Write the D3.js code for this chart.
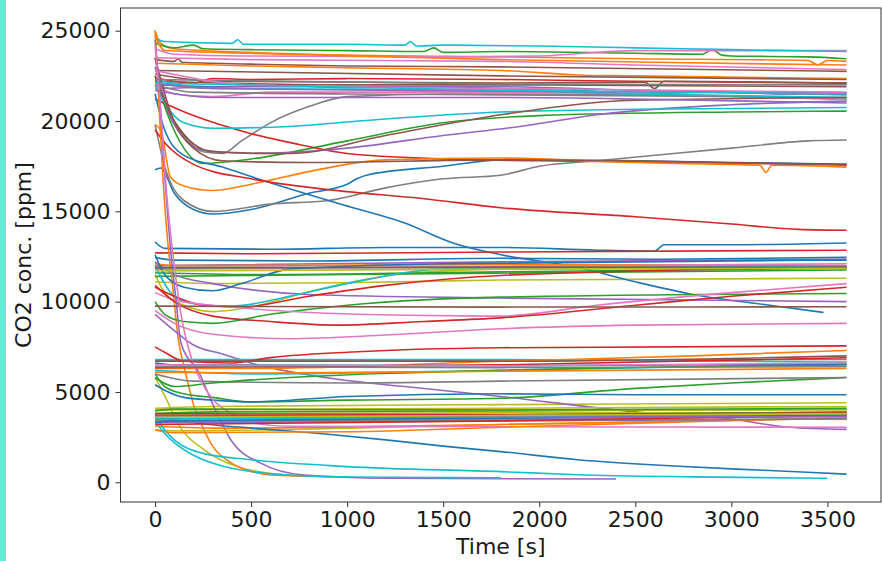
<!DOCTYPE html>
<html><head><meta charset="utf-8">
<script src="https://cdn.jsdelivr.net/npm/d3@7"></script>
<style>body{margin:0;background:#fff;}svg{display:block;}</style>
</head><body>
<svg id="chart" width="882" height="561"></svg>
<script>
// ---------------- DATA (time [s], CO2 [ppm]) ----------------
const timeTicks = [0, 500, 1000, 1500, 2000, 2500, 3000, 3500];
const concTicks = [0, 5000, 10000, 15000, 20000, 25000];
const xLabel = "Time [s]";
const yLabel = "CO2 conc. [ppm]";

const blueRuns = [
  [[0,22300],[40,22000],[300,21900],[700,21950],[1000,21850],[1400,21900],[1800,21800],[2200,21700],[2500,21500],[2900,21600],[3300,21500],[3600,21550]],
  [[0,17300],[30,17400],[100,16000],[200,15100],[300,14850],[500,15100],[800,16000],[1000,16500],[1050,16800],[1100,17000],[1500,17500],[1800,17850],[2500,17800],[3600,17600]],
  [[0,21500],[50,19500],[150,18100],[350,17450],[550,16750],[950,15450],[1300,14350],[1550,13250],[1800,12600],[2200,11900],[2500,11100],[2800,10400],[3200,9800],[3480,9400]],
  [[0,13300],[50,12950],[600,12900],[1200,13000],[1800,13000],[2300,12850],[2600,12800],[2650,13150],[3000,13150],[3600,13250]],
  [[0,12450],[100,12300],[800,12250],[1800,12400],[2600,12350],[3600,12450]],
  [[0,12600],[50,11500],[150,10800],[300,10600],[450,11000],[700,11800],[1500,12100],[3600,12300]],
  [[0,5400],[50,5100],[150,4700],[300,4550],[500,4450],[1000,4750],[1800,4900],[2500,4850],[3600,4850]],
  [[0,3600],[200,3300],[500,3000],[860,2700],[1200,2350],[1500,2000],[1800,1700],[2200,1250],[2700,900],[3200,650],[3600,450]],
  [[0,6600],[100,6500],[1800,6450],[3600,6550]],
  [[0,3300],[100,3400],[1800,3550],[3600,3700]]
];
const orangeRuns = [
  [[0,25000],[30,24300],[100,24000],[500,23800],[1000,23650],[1800,23550],[2500,23450],[3400,23350],[3450,23100],[3500,23350],[3600,23300]],
  [[0,23200],[500,23050],[1000,22950],[1800,22800],[2200,22550],[2500,22500],[3600,22350]],
  [[0,19800],[30,19500],[80,16900],[150,16400],[300,16150],[500,16500],[800,17200],[1200,17850],[1800,17950],[2500,17700],[3000,17600],[3150,17550],[3180,17150],[3210,17550],[3600,17450]],
  [[0,12100],[100,12000],[1800,12050],[3600,12000]],
  [[0,25000],[20,21000],[40,17000],[60,14000],[90,11000],[120,8000],[160,6000],[200,4300],[250,3000],[300,2000],[400,1050],[500,600],[600,400],[920,300]],
  [[0,6300],[500,6300],[1800,6700],[2800,7000],[3600,7300]],
  [[0,3100],[300,3000],[1800,3200],[3600,3550]],
  [[0,2900],[100,2750],[1000,2800],[1800,3050],[3600,3600]],
  [[0,6100],[500,6050],[1800,6150],[3600,6300]],
  [[0,24700],[50,23900],[500,23750],[1800,23400],[2600,23250],[3600,23100]]
];
const greenRuns = [
  [[0,24300],[100,24050],[200,24200],[250,24000],[500,23950],[1000,23900],[1400,23850],[1450,24050],[1500,23800],[1800,23850],[2500,23750],[2850,23700],[2900,23950],[2950,23650],[3000,23600],[3400,23550],[3600,23450]],
  [[0,22500],[60,20500],[150,18500],[250,17650],[500,17900],[1000,18900],[1500,19900],[2000,20300],[3000,20500],[3600,20550]],
  [[0,11600],[500,11500],[1800,11650],[3600,11850]],
  [[0,11400],[1000,11500],[3600,11750]],
  [[0,10000],[50,9300],[150,8900],[300,8800],[600,9300],[1000,9800],[1800,10250],[3600,10450]],
  [[0,6000],[50,5300],[150,4900],[300,4700],[500,4450],[1000,4550],[1800,4650],[2500,5200],[3000,5500],[3600,5800]],
  [[0,5800],[100,5300],[300,5500],[700,5800],[1800,6200],[3600,6500]],
  [[0,3800],[300,3900],[1800,3950],[3600,4050]],
  [[0,3500],[1800,3700],[3600,3900]],
  [[0,3950],[100,4050],[1800,4000],[3600,4100]]
];
const redRuns = [
  [[0,22400],[200,22100],[300,22350],[500,22300],[1000,22350],[1800,22300],[2500,22200],[3600,22100]],
  [[0,21200],[200,20300],[500,19300],[750,18700],[1000,18200],[1500,17900],[2000,17800],[3600,17600]],
  [[0,19500],[50,18800],[200,17600],[500,16800],[900,16200],[1400,15700],[1800,15200],[2500,14700],[3000,14300],[3350,14000],[3600,13950]],
  [[0,12700],[500,12650],[1800,12750],[3600,12850]],
  [[0,10800],[100,10300],[250,9800],[450,9700],[800,10300],[1200,10900],[1800,11450],[3600,11900]],
  [[0,10900],[100,10000],[300,9200],[600,8900],[950,8700],[1400,8900],[1800,9100],[2500,9800],[3000,10300],[3600,10800]],
  [[0,7500],[50,7200],[150,6700],[400,6600],[600,6900],[1000,7200],[1800,7450],[3600,7550]],
  [[0,6350],[1800,6500],[3600,6900]],
  [[0,3800],[1800,3750],[3600,3850]],
  [[0,3200],[1800,3400],[3600,3700]]
];
const purpleRuns = [
  [[0,21800],[500,21900],[1800,21900],[2500,21700],[3600,21450]],
  [[0,23000],[100,19800],[250,18400],[500,18200],[1000,18500],[1500,19200],[1900,19700],[2300,20350],[3000,20900],[3600,21100]],
  [[0,12000],[1800,12200],[3600,12350]],
  [[0,12200],[100,11500],[300,11000],[800,10400],[1800,10200],[3600,10000]],
  [[0,9300],[100,8400],[200,7600],[350,7100],[500,6600],[950,5700],[1300,5300],[1800,4750],[2500,3900],[3000,3500],[3300,3050],[3600,2930]],
  [[0,24500],[20,22000],[50,17000],[80,13000],[110,10000],[135,7700],[230,6050],[306,4190],[395,2340],[550,1060],[776,400],[1210,220],[2400,180]],
  [[0,22100],[300,21800],[1800,21650],[3600,21550]],
  [[0,3300],[1800,3400],[3600,3500]],
  [[0,21700],[300,21300],[1800,21300],[2600,21200],[3600,21000]],
  [[0,3650],[1800,3600],[3600,3650]]
];
const brownRuns = [
  [[0,23400],[100,23300],[120,23450],[140,23250],[500,23150],[1000,23050],[1800,23000],[3600,22750]],
  [[0,22600],[300,22200],[1800,22100],[2550,22150],[2600,21800],[2650,22200],[3600,22100]],
  [[0,22200],[1000,22000],[2000,22000],[3600,21900]],
  [[0,22500],[100,20000],[300,18300],[700,18200],[1200,19200],[1800,20350],[2500,21150],[3600,21300]],
  [[0,23500],[80,20500],[200,18500],[350,17800],[800,17700],[1800,17850],[2500,17800],[3600,17550]],
  [[0,11900],[1800,11900],[3600,11900]],
  [[0,9750],[1800,9700],[3600,9720]],
  [[0,6700],[1800,6700],[3600,7000]],
  [[0,3700],[1800,3700],[3600,3750]],
  [[0,22800],[1800,22500],[3600,22300]]
];
const pinkRuns = [
  [[0,24000],[100,23700],[500,23600],[1500,23550],[2000,23600],[2500,23900],[3600,23900]],
  [[0,23500],[500,23400],[1800,23300],[2500,23100],[3600,22850]],
  [[0,22000],[100,21500],[300,21350],[600,21600],[1800,21600],[3600,21200]],
  [[0,11800],[1800,11950],[3600,12100]],
  [[0,10500],[100,10100],[400,9700],[800,9400],[1300,9250],[1800,9200],[2300,9800],[3000,10500],[3600,11000]],
  [[0,9500],[100,8800],[300,8200],[700,7950],[1200,8150],[1800,8500],[2500,8700],[3600,8800]],
  [[0,24200],[30,20500],[60,16000],[100,12000],[140,9000],[180,7200],[230,5800],[300,4600],[400,3800],[500,3300],[700,3100],[3600,3050]],
  [[0,3400],[1800,3500],[3600,3650]],
  [[0,6500],[1800,6450],[3600,6600]],
  [[0,22800],[500,22000],[1800,21800],[3600,21600]]
];
const grayRuns = [
  [[0,23500],[50,21000],[150,19200],[250,18300],[350,18200],[450,18900],[600,19900],[800,20800],[1000,21350],[1500,21500],[2000,21500],[3600,21200]],
  [[0,19800],[50,17500],[150,15600],[300,15000],[600,15400],[900,15600],[1200,16300],[1500,16800],[1800,17000],[2000,17500],[2300,17800],[2700,18200],[3000,18500],[3400,18900],[3600,18950]],
  [[0,22000],[200,21600],[1000,21500],[1800,21450],[3600,21300]],
  [[0,11850],[1800,11900],[3600,11950]],
  [[0,6750],[1800,6750],[3600,6800]],
  [[0,6000],[200,5600],[1000,5500],[1800,5600],[3600,5800]],
  [[0,3700],[1800,3650],[3600,3700]],
  [[0,22300],[1800,22050],[3600,22000]],
  [[0,3400],[1800,3450],[3600,3500]],
  [[0,6400],[1800,6350],[3600,6400]]
];
const oliveRuns = [
  [[0,11100],[300,11000],[1000,11050],[1800,11200],[3600,11300]],
  [[0,11500],[50,10500],[150,9800],[300,9450],[500,9700],[800,10550],[1300,11550],[1800,11800],[3600,11900]],
  [[0,5800],[50,4800],[118,3270],[256,1790],[430,860],[690,400],[950,300]],
  [[0,4100],[300,4200],[1800,4300],[3600,4400]],
  [[0,4000],[1800,4100],[3600,4200]],
  [[0,2900],[100,2850],[1800,3200],[3600,3550]],
  [[0,3800],[1800,3850],[3600,3850]],
  [[0,4050],[1800,4000],[3600,4000]],
  [[0,11700],[1800,11800],[3600,11850]],
  [[0,3600],[1800,3700],[3600,3800]]
];
const cyanRuns = [
  [[0,24600],[50,24400],[400,24300],[430,24500],[460,24250],[1000,24250],[1300,24200],[1330,24400],[1360,24150],[1500,24200],[2000,24150],[2500,24050],[3000,23950],[3600,23850]],
  [[0,22000],[50,21000],[150,19900],[300,19600],[700,19700],[1000,19950],[1800,20500],[2500,20650],[3600,20750]],
  [[0,22300],[300,21800],[1800,21700],[2500,21500],[3600,21300]],
  [[0,12000],[100,10300],[200,9900],[400,9750],[700,10300],[1000,11000],[1500,11800],[3600,11950]],
  [[0,6800],[1800,6800],[3600,6650]],
  [[0,6200],[500,6000],[1800,6200],[3600,6550]],
  [[0,3700],[50,2900],[100,2350],[250,1600],[500,1250],[1000,870],[1800,590],[2200,420],[2800,300],[3500,220]],
  [[0,3400],[50,2700],[100,2200],[200,1500],[350,900],[500,600],[800,350],[1200,280],[1800,250]],
  [[0,3500],[1800,3600],[3600,3750]],
  [[0,22100],[1800,21700],[3600,21500]]
];

// plot order follows the default colour cycle (one run of each group per cycle)
const groups = [blueRuns, orangeRuns, greenRuns, redRuns, purpleRuns, brownRuns, pinkRuns, grayRuns, oliveRuns, cyanRuns];
const runs = [];
for (let i = 0; i < 10; i++) groups.forEach((g, k) => { if (g[i]) runs.push({k, pts: g[i]}); });

// ---------------- DRAW ----------------
const svg = d3.select("#chart");
const m = {l: 120.5, r: 881, t: 8, b: 502};
const x = d3.scaleLinear().domain([-180, 3779]).range([m.l, m.r]);
const y = d3.scaleLinear().domain([-1091, 26257]).range([m.b, m.t]);
const colors = d3.schemeCategory10;
const FONT = "'DejaVu Sans', sans-serif";

svg.append("rect").attr("width", 882).attr("height", 561).attr("fill", "#fff");
svg.append("rect").attr("x", 0).attr("y", 0).attr("width", 6).attr("height", 561).attr("fill", "#70e6d6");

svg.append("clipPath").attr("id", "clip").append("rect")
  .attr("x", m.l).attr("y", m.t).attr("width", m.r - m.l).attr("height", m.b - m.t);

const line = d3.line().x(d => x(d[0])).y(d => y(d[1])).curve(d3.curveMonotoneX);
svg.append("g").attr("clip-path", "url(#clip)")
  .selectAll("path").data(runs).join("path")
  .attr("d", d => line(d.pts))
  .attr("fill", "none")
  .attr("stroke", d => colors[d.k])
  .attr("stroke-width", 1.6)
  .attr("stroke-linejoin", "round");

const xAxis = d3.axisBottom(x).tickValues(timeTicks).tickSize(5).tickPadding(4).tickFormat(d3.format("d"));
const yAxis = d3.axisLeft(y).tickValues(concTicks).tickSize(5).tickPadding(5).tickFormat(d3.format("d"));
const gx = svg.append("g").attr("transform", `translate(0,${m.b})`).call(xAxis);
const gy = svg.append("g").attr("transform", `translate(${m.l},0)`).call(yAxis);
[gx, gy].forEach(g => {
  g.select(".domain").remove();
  g.selectAll(".tick line").attr("stroke", "#333").attr("stroke-width", 1);
  g.selectAll(".tick text").attr("font-family", FONT).attr("font-size", 22).attr("fill", "#1a1a1a");
});

svg.append("rect").attr("x", m.l).attr("y", m.t).attr("width", m.r - m.l).attr("height", m.b - m.t)
  .attr("fill", "none").attr("stroke", "#333").attr("stroke-width", 1);

svg.append("text").attr("x", (m.l + m.r) / 2).attr("y", 554).attr("text-anchor", "middle")
  .attr("font-family", FONT).attr("font-size", 22).attr("fill", "#1a1a1a").text(xLabel);
svg.append("text").attr("transform", `translate(31,${(m.t + m.b) / 2}) rotate(-90)`).attr("text-anchor", "middle")
  .attr("font-family", FONT).attr("font-size", 22).attr("fill", "#1a1a1a").text(yLabel);
</script>
</body></html>
